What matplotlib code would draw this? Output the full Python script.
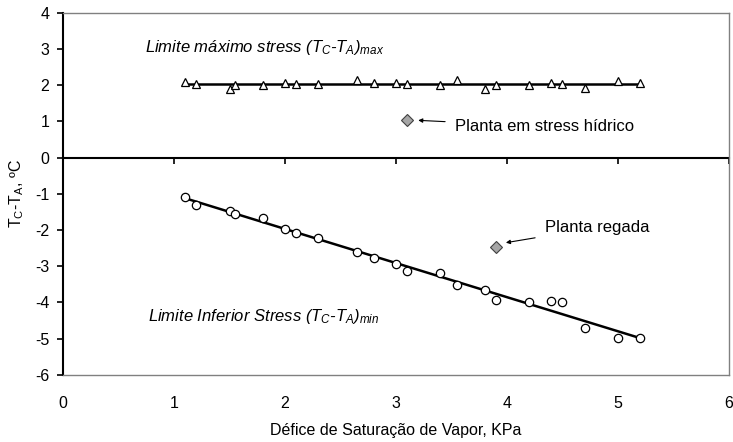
import numpy as np
import matplotlib
matplotlib.use('Agg')
import matplotlib.pyplot as plt

plt.rcParams['font.family'] = ['Liberation Sans', 'DejaVu Sans']
plt.rcParams['mathtext.fontset'] = 'custom'
plt.rcParams['mathtext.rm'] = 'Liberation Sans'
plt.rcParams['mathtext.it'] = 'Liberation Sans:italic'
plt.rcParams['font.size'] = 11.5
plt.rcParams['axes.unicode_minus'] = False

# limite superior (planta sem transpiração)
dpv_max = [1.1, 1.2, 1.5, 1.55, 1.8, 2.0, 2.1, 2.3, 2.65, 2.8, 3.0, 3.1,
           3.4, 3.55, 3.8, 3.9, 4.2, 4.4, 4.5, 4.7, 5.0, 5.2]
dt_max = [2.08, 2.03, 1.9, 2.0, 2.0, 2.07, 2.03, 2.03, 2.15, 2.05, 2.07, 2.03,
          2.0, 2.15, 1.9, 2.0, 2.0, 2.05, 2.02, 1.93, 2.12, 2.05]

# limite inferior (planta bem regada)
dpv_min = [1.1, 1.2, 1.5, 1.55, 1.8, 2.0, 2.1, 2.3, 2.65, 2.8, 3.0, 3.1,
           3.4, 3.55, 3.8, 3.9, 4.2, 4.4, 4.5, 4.7, 5.0, 5.2]
dt_min = [-1.08, -1.32, -1.47, -1.55, -1.68, -1.97, -2.07, -2.22, -2.6, -2.77, -2.94, -3.12,
          -3.19, -3.51, -3.66, -3.94, -4.0, -3.97, -4.0, -4.72, -4.97, -4.98]

# pontos de exemplo
stress_x, stress_y = [3.1], [1.03]
regada_x, regada_y = [3.9], [-2.48]

fig = plt.figure(figsize=(7.33, 4.42), dpi=100)
ax = fig.add_axes([0.086, 0.152, 0.9085, 0.819])

# retas de ajuste
xs = np.array([min(dpv_max), max(dpv_max)])
ax.plot(xs, np.full(2, np.mean(dt_max)), color='black', lw=1.8, zorder=2)
a, b = np.polyfit(dpv_min, dt_min, 1)
xs2 = np.array([min(dpv_min), max(dpv_min)])
ax.plot(xs2, a * xs2 + b, color='black', lw=1.8, zorder=2)

ax.plot(dpv_max, dt_max, '^', ms=6, mfc='white', mec='black', mew=0.9, zorder=3)
ax.plot(dpv_min, dt_min, 'o', ms=6, mfc='white', mec='black', mew=0.9, zorder=3)
ax.plot(stress_x, stress_y, 'D', ms=6, mfc='#a6a6a6', mec='#404040', mew=0.8, zorder=3)
ax.plot(regada_x, regada_y, 'D', ms=6, mfc='#a6a6a6', mec='#404040', mew=0.8, zorder=3)

ax.set_xlim(0, 6)
ax.set_ylim(-6, 4)
ax.set_xticks(range(0, 7))
ax.set_yticks(range(-6, 5))

for s in ['top', 'right', 'bottom']:
    ax.spines[s].set_color('#808080')
    ax.spines[s].set_linewidth(1.0)
ax.spines['left'].set_color('black')
ax.spines['left'].set_linewidth(1.5)
ax.tick_params(axis='x', length=0, pad=15)
ax.tick_params(axis='y', length=4, width=1.2, pad=6)

# eixo em y = 0
sec = ax.secondary_xaxis(0.6)
sec.set_alignment('bottom')
sec.set_xticks(range(0, 7))
sec.tick_params(axis='x', length=4, width=1.2, labelbottom=False, labeltop=False)
sec.spines['bottom'].set_linewidth(1.5)
sec.spines['bottom'].set_color('black')

ax.set_xlabel('Défice de Saturação de Vapor, KPa', labelpad=9)
ax.set_ylabel(r'T$_\mathrm{C}$-T$_\mathrm{A}$, ºC', labelpad=6)

ax.text(0.74, 3.04, r'Limite máximo stress ($T_C$-$T_A$)$_{max}$',
        style='italic', va='center', ha='left', fontsize=12)
ax.text(0.77, -4.4, r'Limite Inferior Stress ($T_C$-$T_A$)$_{min}$',
        style='italic', va='center', ha='left', fontsize=12)

ax.annotate('Planta em stress hídrico', xy=(3.2, 1.03), xytext=(3.53, 0.86),
            va='center', ha='left', fontsize=12,
            arrowprops=dict(arrowstyle='-|>', color='black', lw=0.8,
                            mutation_scale=6, shrinkA=5, shrinkB=0))
ax.annotate('Planta regada', xy=(3.99, -2.35), xytext=(4.34, -1.93),
            va='center', ha='left', fontsize=12,
            arrowprops=dict(arrowstyle='-|>', color='black', lw=0.8,
                            mutation_scale=6, shrinkA=5, shrinkB=0))

fig.savefig('out.png', dpi=100)
